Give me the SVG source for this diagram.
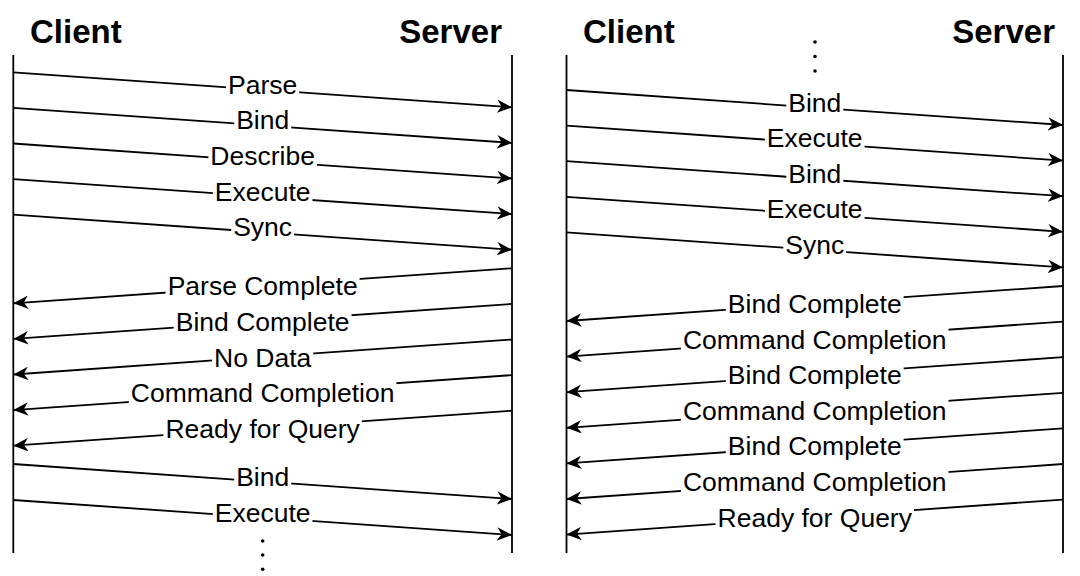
<svg xmlns="http://www.w3.org/2000/svg" width="1080" height="576" viewBox="0 0 1080 576">
  <style>
    .hdr { font-family: "Liberation Sans", Arial, sans-serif; font-weight: bold; font-size: 33px; fill: #000; }
    .life { stroke: #000; stroke-width: 1.8; fill: none; }
    .msg { stroke: #000; stroke-width: 1.8; fill: none; marker-end: url(#ah); }
    .lbl { font-family: "Liberation Sans", Arial, sans-serif; font-size: 26.5px; fill: #000; text-anchor: middle; }
    .bg { fill: #fff; }
    .dot { fill: #000; }
  </style>
  <defs>
    <marker id="ah" markerUnits="userSpaceOnUse" markerWidth="15" markerHeight="13.5" viewBox="0 0 15 13.5" refX="15" refY="6.75" orient="auto">
      <path d="M0,0 L15,6.75 L0,13.5 L4.5,6.75 Z" fill="#000"/>
    </marker>
  </defs>
  <rect width="1080" height="576" fill="#fff"/>

  <!-- Left panel lifelines -->
  <g id="left-client">
    <text class="hdr" x="30" y="42.5">Client</text>
    <line class="life" x1="13.3" y1="55" x2="13.3" y2="553"/>
  </g>
  <g id="left-server">
    <text class="hdr" x="502" y="42.5" text-anchor="end">Server</text>
    <line class="life" x1="512" y1="55" x2="512" y2="553"/>
  </g>
  <g id="left-dots">
    <circle class="dot" cx="262.7" cy="541" r="1.8"/>
    <circle class="dot" cx="262.7" cy="555" r="1.8"/>
    <circle class="dot" cx="262.7" cy="569.3" r="1.8"/>
  </g>

  <!-- Right panel lifelines -->
  <g id="right-client">
    <text class="hdr" x="583" y="42.5">Client</text>
    <line class="life" x1="566.5" y1="55" x2="566.5" y2="553"/>
  </g>
  <g id="right-server">
    <text class="hdr" x="1055" y="42.5" text-anchor="end">Server</text>
    <line class="life" x1="1063" y1="55" x2="1063" y2="553"/>
  </g>
  <g id="right-dots">
    <circle class="dot" cx="815" cy="42" r="1.8"/>
    <circle class="dot" cx="815" cy="56.5" r="1.8"/>
    <circle class="dot" cx="815" cy="71" r="1.8"/>
  </g>

  <g id="connectors">
    <!-- Left panel: client to server -->
    <g id="l1"><line class="msg" x1="13.3" y1="72.3" x2="512" y2="107.3"/><rect class="bg" x="226" y="71.8" width="73.2" height="28"/><text class="lbl" x="262.65" y="93.8">Parse</text></g>
    <g id="l2"><line class="msg" x1="13.3" y1="107.9" x2="512" y2="142.9"/><rect class="bg" x="234.2" y="107.4" width="57" height="28"/><text class="lbl" x="262.65" y="129.4">Bind</text></g>
    <g id="l3"><line class="msg" x1="13.3" y1="143.5" x2="512" y2="178.5"/><rect class="bg" x="208.4" y="143" width="108.5" height="28"/><text class="lbl" x="262.65" y="165">Describe</text></g>
    <g id="l4"><line class="msg" x1="13.3" y1="179.1" x2="512" y2="214.1"/><rect class="bg" x="212.8" y="178.6" width="99.7" height="28"/><text class="lbl" x="262.65" y="200.6">Execute</text></g>
    <g id="l5"><line class="msg" x1="13.3" y1="214.7" x2="512" y2="249.7"/><rect class="bg" x="231.2" y="214.2" width="62.9" height="28"/><text class="lbl" x="262.65" y="236.2">Sync</text></g>
    <!-- Left panel: server to client -->
    <g id="l6"><line class="msg" x1="512" y1="268.3" x2="13.3" y2="303.3"/><rect class="bg" x="165.6" y="273.3" width="194" height="28"/><text class="lbl" x="262.65" y="295.3">Parse Complete</text></g>
    <g id="l7"><line class="msg" x1="512" y1="303.9" x2="13.3" y2="338.9"/><rect class="bg" x="173.7" y="308.9" width="177.8" height="28"/><text class="lbl" x="262.65" y="330.9">Bind Complete</text></g>
    <g id="l8"><line class="msg" x1="512" y1="339.5" x2="13.3" y2="374.5"/><rect class="bg" x="212" y="344.5" width="101.2" height="28"/><text class="lbl" x="262.65" y="366.5">No Data</text></g>
    <g id="l9"><line class="msg" x1="512" y1="375.1" x2="13.3" y2="410.1"/><rect class="bg" x="128.8" y="380.1" width="267.6" height="28"/><text class="lbl" x="262.65" y="402.1">Command Completion</text></g>
    <g id="l10"><line class="msg" x1="512" y1="410.7" x2="13.3" y2="445.7"/><rect class="bg" x="163.4" y="415.7" width="198.4" height="28"/><text class="lbl" x="262.65" y="437.7">Ready for Query</text></g>
    <!-- Left panel: client to server again -->
    <g id="l11"><line class="msg" x1="13.3" y1="464" x2="512" y2="499"/><rect class="bg" x="234.2" y="463.5" width="57" height="28"/><text class="lbl" x="262.65" y="485.5">Bind</text></g>
    <g id="l12"><line class="msg" x1="13.3" y1="500" x2="512" y2="535"/><rect class="bg" x="212.8" y="499.5" width="99.7" height="28"/><text class="lbl" x="262.65" y="521.5">Execute</text></g>

    <!-- Right panel: client to server -->
    <g id="r1"><line class="msg" x1="566.5" y1="90" x2="1063" y2="125"/><rect class="bg" x="786.3" y="89.5" width="57" height="28"/><text class="lbl" x="814.75" y="111.5">Bind</text></g>
    <g id="r2"><line class="msg" x1="566.5" y1="125.6" x2="1063" y2="160.6"/><rect class="bg" x="764.9" y="125.1" width="99.7" height="28"/><text class="lbl" x="814.75" y="147.1">Execute</text></g>
    <g id="r3"><line class="msg" x1="566.5" y1="161.2" x2="1063" y2="196.2"/><rect class="bg" x="786.3" y="160.7" width="57" height="28"/><text class="lbl" x="814.75" y="182.7">Bind</text></g>
    <g id="r4"><line class="msg" x1="566.5" y1="196.8" x2="1063" y2="231.8"/><rect class="bg" x="764.9" y="196.3" width="99.7" height="28"/><text class="lbl" x="814.75" y="218.3">Execute</text></g>
    <g id="r5"><line class="msg" x1="566.5" y1="232.4" x2="1063" y2="267.4"/><rect class="bg" x="783.3" y="231.9" width="62.9" height="28"/><text class="lbl" x="814.75" y="253.9">Sync</text></g>
    <!-- Right panel: server to client -->
    <g id="r6"><line class="msg" x1="1063" y1="286" x2="566.5" y2="321"/><rect class="bg" x="725.8" y="291" width="177.8" height="28"/><text class="lbl" x="814.75" y="313">Bind Complete</text></g>
    <g id="r7"><line class="msg" x1="1063" y1="321.6" x2="566.5" y2="356.6"/><rect class="bg" x="680.9" y="326.6" width="267.6" height="28"/><text class="lbl" x="814.75" y="348.6">Command Completion</text></g>
    <g id="r8"><line class="msg" x1="1063" y1="357.2" x2="566.5" y2="392.2"/><rect class="bg" x="725.8" y="362.2" width="177.8" height="28"/><text class="lbl" x="814.75" y="384.2">Bind Complete</text></g>
    <g id="r9"><line class="msg" x1="1063" y1="392.8" x2="566.5" y2="427.8"/><rect class="bg" x="680.9" y="397.8" width="267.6" height="28"/><text class="lbl" x="814.75" y="419.8">Command Completion</text></g>
    <g id="r10"><line class="msg" x1="1063" y1="428.4" x2="566.5" y2="463.4"/><rect class="bg" x="725.8" y="433.4" width="177.8" height="28"/><text class="lbl" x="814.75" y="455.4">Bind Complete</text></g>
    <g id="r11"><line class="msg" x1="1063" y1="464" x2="566.5" y2="499"/><rect class="bg" x="680.9" y="469" width="267.6" height="28"/><text class="lbl" x="814.75" y="491">Command Completion</text></g>
    <g id="r12"><line class="msg" x1="1063" y1="499.6" x2="566.5" y2="534.6"/><rect class="bg" x="715.5" y="504.6" width="198.4" height="28"/><text class="lbl" x="814.75" y="526.6">Ready for Query</text></g>
  </g>
</svg>
